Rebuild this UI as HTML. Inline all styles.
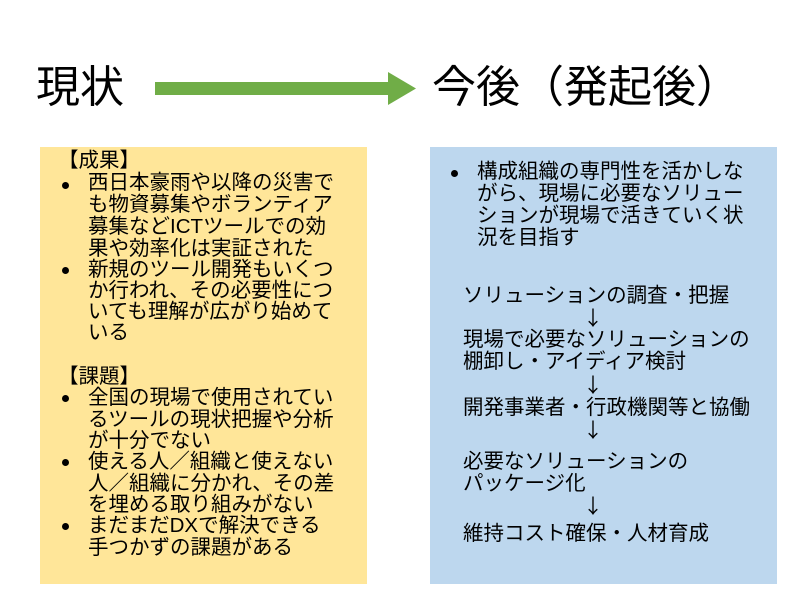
<!DOCTYPE html>
<html><head><meta charset="utf-8"><style>
body{margin:0;width:800px;height:600px;background:#fff;position:relative;overflow:hidden;font-family:"Liberation Sans","Noto Sans CJK JP",sans-serif;color:#000}
.t{position:absolute;white-space:nowrap;font-size:20.5px;line-height:22px}
.a{font-family:"Noto Sans CJK JP",sans-serif;font-size:20px}
.b{position:absolute;width:7px;height:7px;border-radius:50%;background:#000}
</style></head><body>
<div class="t" style="left:36px;top:60px;font-size:44px;line-height:56px">現状</div>
<svg style="position:absolute;left:0;top:0" width="800" height="600">
<rect x="155" y="82" width="235" height="13" fill="#70AD47"/>
<polygon points="388,72 416,88.5 388,105" fill="#70AD47"/>
</svg>
<div class="t" style="left:432px;top:60px;font-size:44px;line-height:56px">今後（発起後）</div>
<div style="position:absolute;left:40px;top:147px;width:327px;height:437px;background:#FFE699"></div>
<div style="position:absolute;left:430px;top:147px;width:347px;height:437px;background:#BDD7EE"></div>

<div class="t" style="left:58px;top:150px">【成果】</div>
<div class="b" style="left:62px;top:182px"></div>
<div class="t" style="left:88px;top:172px">西日本豪雨や以降の災害で<br>も物資募集やボランティア<br>募集などICTツールでの効<br>果や効率化は実証された</div>
<div class="b" style="left:62px;top:267px"></div>
<div class="t" style="left:88px;top:259px;line-height:21px">新規のツール開発もいくつ<br>か行われ、その必要性につ<br>いても理解が広がり始めて<br>いる</div>
<div class="t" style="left:58px;top:366px">【課題】</div>
<div class="b" style="left:62px;top:395px"></div>
<div class="t" style="left:88px;top:387px;line-height:21.5px">全国の現場で使用されてい<br>るツールの現状把握や分析<br>が十分でない</div>
<div class="b" style="left:62px;top:459px"></div>
<div class="t" style="left:88px;top:451px;line-height:21.5px">使える人／組織と使えない<br>人／組織に分かれ、その差<br>を埋める取り組みがない</div>
<div class="b" style="left:62px;top:523px"></div>
<div class="t" style="left:88px;top:515px;line-height:21.5px">まだまだDXで解決できる<br>手つかずの課題がある</div>

<div class="b" style="left:451px;top:170px"></div>
<div class="t" style="left:477px;top:161px">構成組織の専門性を活かしな<br>がら、現場に必要なソリュー<br>ションが現場で活きていく状<br>況を目指す</div>
<div class="t" style="left:463px;top:285px">ソリューションの調査・把握</div>
<div class="t a" style="left:583px;top:306px">↓</div>
<div class="t" style="left:463px;top:329px">現場で必要なソリューションの<br>棚卸し・アイディア検討</div>
<div class="t a" style="left:583px;top:373px">↓</div>
<div class="t" style="left:463px;top:397px">開発事業者・行政機関等と協働</div>
<div class="t a" style="left:583px;top:418px">↓</div>
<div class="t" style="left:463px;top:451px">必要なソリューションの<br>パッケージ化</div>
<div class="t a" style="left:583px;top:494px">↓</div>
<div class="t" style="left:463px;top:523px">維持コスト確保・人材育成</div>
</body></html>
